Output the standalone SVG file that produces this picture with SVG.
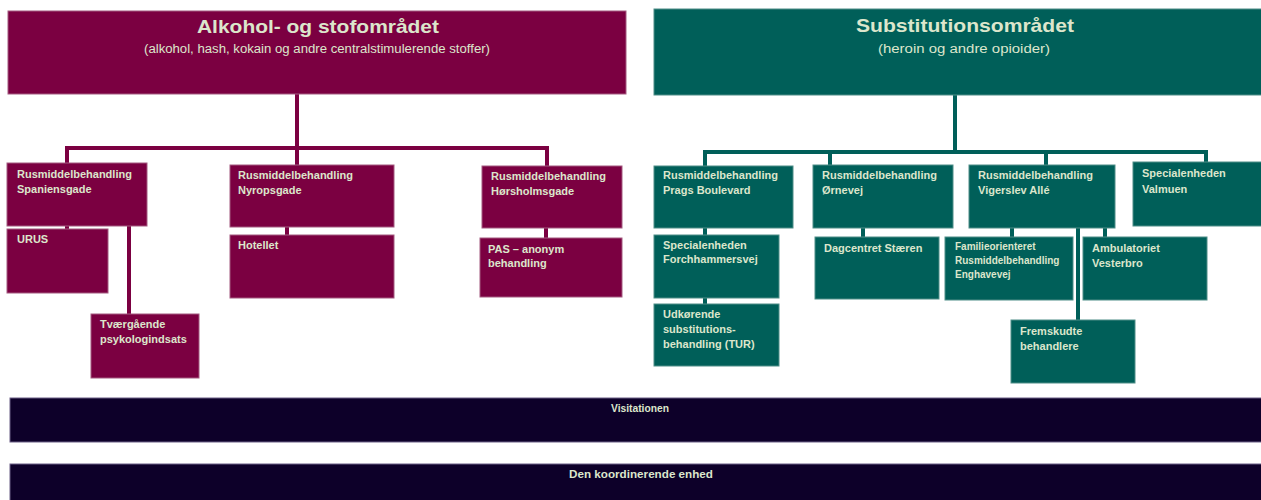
<svg xmlns="http://www.w3.org/2000/svg" width="1261" height="500" viewBox="0 0 1261 500">
<style>
.m{fill:#7b0041;stroke:#a45a80;stroke-width:1}
.t{fill:#005f59;stroke:#4f8e88;stroke-width:1}
.n{fill:#0d0029;stroke:#6b5e86;stroke-width:1}
.lm{stroke:#7b0041;stroke-width:4;fill:none}
.lt{stroke:#005f59;stroke-width:4;fill:none}
text{font-family:"Liberation Sans",Arial,sans-serif;fill:#dce6cc}
.h{font-size:19px;font-weight:bold;text-anchor:middle}
.s{font-size:12.5px;text-anchor:middle}
.b{font-size:11px;font-weight:bold}
.f{font-size:10px;font-weight:bold}
.c{font-size:10px;font-weight:bold;text-anchor:middle}
</style>
<rect width="1261" height="500" fill="#ffffff"/>
<g id="connectors">
<path class="lm" d="M297 94V148M65 148H549M67 148V163M297 148V165M547 148V166M67 226V229M129 226V314M287 227V235M546 228V238"/>
<path class="lt" d="M955 95V152M703 152H1208M705 152V166M830 152V165M1046 152V165M1206 152V162M705 228V235M705 298V304M863 228V237M1012 228V237M1105 228V237M1078 228V320"/>
</g>
<g id="alkohol">
<rect class="m" x="8" y="11" width="618" height="83"/>
<text class="h" x="318" y="33" textLength="242" lengthAdjust="spacingAndGlyphs">Alkohol- og stofområdet</text>
<text class="s" x="317" y="53" textLength="346" lengthAdjust="spacingAndGlyphs">(alkohol, hash, kokain og andre centralstimulerende stoffer)</text>
</g>
<g id="substitution">
<rect class="t" x="654" y="9" width="608" height="86"/>
<text class="h" x="965" y="32" textLength="218" lengthAdjust="spacingAndGlyphs">Substitutionsområdet</text>
<text class="s" x="964" y="53" textLength="172" lengthAdjust="spacingAndGlyphs">(heroin og andre opioider)</text>
</g>
<g id="spaniensgade">
<rect class="m" x="7" y="163" width="140" height="63"/>
<text class="b" x="17" y="178">Rusmiddelbehandling</text>
<text class="b" x="17" y="193">Spaniensgade</text>
</g>
<g id="urus">
<rect class="m" x="7" y="229" width="101" height="64"/>
<text class="b" x="17" y="243">URUS</text>
</g>
<g id="tvaergaende">
<rect class="m" x="91" y="314" width="108" height="64"/>
<text class="b" x="100" y="328">Tværgående</text>
<text class="b" x="100" y="343">psykologindsats</text>
</g>
<g id="nyropsgade">
<rect class="m" x="230" y="165" width="164" height="62"/>
<text class="b" x="238" y="179">Rusmiddelbehandling</text>
<text class="b" x="238" y="194">Nyropsgade</text>
</g>
<g id="hotellet">
<rect class="m" x="230" y="235" width="164" height="63"/>
<text class="b" x="238" y="249">Hotellet</text>
</g>
<g id="horsholmsgade">
<rect class="m" x="482" y="166" width="140" height="62"/>
<text class="b" x="491" y="180">Rusmiddelbehandling</text>
<text class="b" x="491" y="195">Hørsholmsgade</text>
</g>
<g id="pas">
<rect class="m" x="480" y="238" width="142" height="59"/>
<text class="b" x="488" y="253">PAS – anonym</text>
<text class="b" x="488" y="267">behandling</text>
</g>
<g id="prags">
<rect class="t" x="654" y="166" width="139" height="62"/>
<text class="b" x="663" y="179">Rusmiddelbehandling</text>
<text class="b" x="663" y="194">Prags Boulevard</text>
</g>
<g id="forchhammersvej">
<rect class="t" x="654" y="235" width="125" height="63"/>
<text class="b" x="663" y="249">Specialenheden</text>
<text class="b" x="663" y="263">Forchhammersvej</text>
</g>
<g id="tur">
<rect class="t" x="654" y="304" width="125" height="62"/>
<text class="b" x="663" y="318">Udkørende</text>
<text class="b" x="663" y="333">substitutions-</text>
<text class="b" x="663" y="348">behandling (TUR)</text>
</g>
<g id="ornevej">
<rect class="t" x="813" y="165" width="140" height="63"/>
<text class="b" x="822" y="179">Rusmiddelbehandling</text>
<text class="b" x="822" y="194">Ørnevej</text>
</g>
<g id="dagcentret">
<rect class="t" x="815" y="237" width="124" height="62"/>
<text class="b" x="824" y="252">Dagcentret Stæren</text>
</g>
<g id="vigerslev">
<rect class="t" x="969" y="165" width="146" height="63"/>
<text class="b" x="978" y="179">Rusmiddelbehandling</text>
<text class="b" x="978" y="194">Vigerslev Allé</text>
</g>
<g id="familie">
<rect class="t" x="945" y="237" width="128" height="63"/>
<text class="f" x="955" y="250">Familieorienteret</text>
<text class="f" x="955" y="264">Rusmiddelbehandling</text>
<text class="f" x="955" y="278">Enghavevej</text>
</g>
<g id="ambulatoriet">
<rect class="t" x="1083" y="237" width="124" height="63"/>
<text class="b" x="1092" y="252">Ambulatoriet</text>
<text class="b" x="1092" y="267">Vesterbro</text>
</g>
<g id="fremskudte">
<rect class="t" x="1011" y="320" width="124" height="63"/>
<text class="b" x="1020" y="335">Fremskudte</text>
<text class="b" x="1020" y="350">behandlere</text>
</g>
<g id="valmuen">
<rect class="t" x="1133" y="162" width="129" height="64"/>
<text class="b" x="1142" y="177">Specialenheden</text>
<text class="b" x="1142" y="193">Valmuen</text>
</g>
<g id="visitationen">
<rect class="n" x="10" y="398" width="1252" height="44"/>
<text class="c" x="640" y="412" textLength="58" lengthAdjust="spacingAndGlyphs">Visitationen</text>
</g>
<g id="koordinerende">
<rect class="n" x="10" y="464" width="1252" height="37"/>
<text class="c" x="641" y="478" textLength="144" lengthAdjust="spacingAndGlyphs">Den koordinerende enhed</text>
</g>
</svg>
